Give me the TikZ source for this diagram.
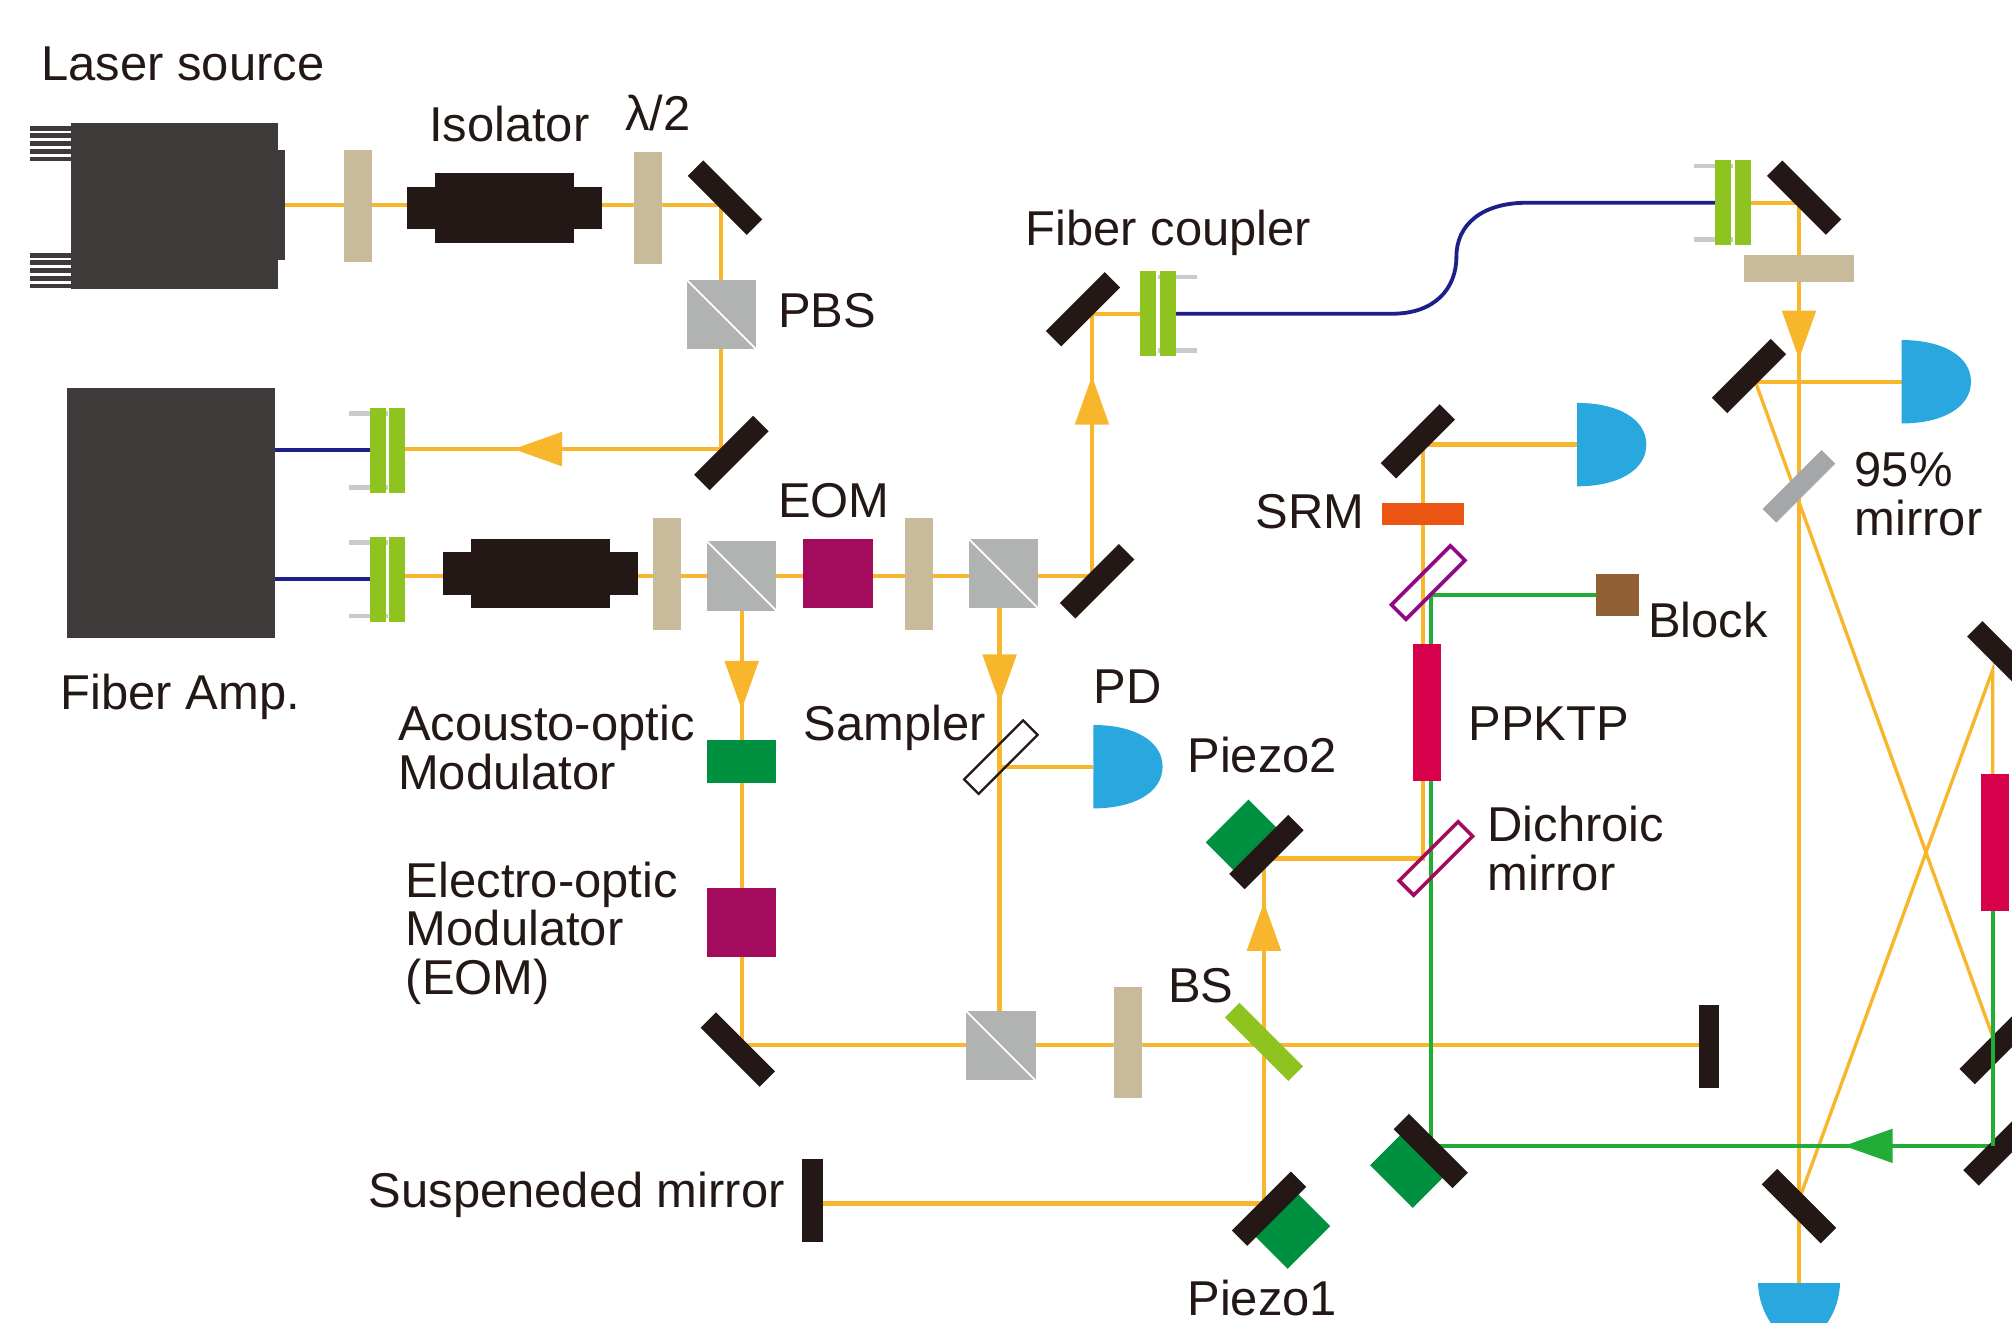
\documentclass[tikz,border=0pt]{standalone}
\usepackage{fontspec}
\setmainfont{Liberation Sans}
\usetikzlibrary{arrows.meta,backgrounds}
\definecolor{beamc}{HTML}{F8B62D}
\definecolor{greenc}{HTML}{22AC38}
\definecolor{fiberc}{HTML}{1D2088}
\definecolor{inkc}{HTML}{231815}
\definecolor{laserc}{HTML}{3E3A39}
\definecolor{platec}{HTML}{C8BB9B}
\definecolor{cubec}{HTML}{B1B3B3}
\definecolor{couplerc}{HTML}{8FC31F}
\definecolor{pinc}{HTML}{C9CACA}
\definecolor{eomc}{HTML}{A40B5D}
\definecolor{aomc}{HTML}{009140}
\definecolor{pdc}{HTML}{29A8E0}
\definecolor{crystalc}{HTML}{D7004A}
\definecolor{srmc}{HTML}{EA5514}
\definecolor{blockc}{HTML}{905F33}
\definecolor{halfc}{HTML}{A5A6A7}
\definecolor{dicc}{HTML}{920783}
\tikzset{
  part/.style n args={3}{fill=#1,minimum width=#2*0.02cm,minimum height=#3*0.02cm,inner sep=0pt,outer sep=0pt},
  plate/.style={part={platec}{22}{87}},
  cube/.style={part={cubec}{54}{54},path picture={\draw[white,line width=0.8pt] (path picture bounding box.north west) -- (path picture bounding box.south east);}},
  eom/.style={part={eomc}{54}{54}},
  mirror/.style={part={inkc}{65}{17}},
  mirrorup/.style={mirror,rotate=45},
  mirrordown/.style={mirror,rotate=-45},
  piezo/.style={part={aomc}{47}{40},rotate=45},
  thinplate/.style={draw=#1,line width=1pt,minimum width=65*0.02cm,minimum height=16*0.02cm,inner sep=0pt,outer sep=0pt,rotate=45},
  dichroic/.style={thinplate=#1,line width=1.6pt},
  lbl/.style={anchor=base west,inner sep=0pt,align=left,text=inkc,font=\fontsize{21.7}{21.6}\selectfont},
  beam/.style={draw=beamc,line width=1.9pt},
  slimbeam/.style={draw=beamc,line width=1.5pt},
  greenbeam/.style={draw=greenc,line width=1.7pt},
  fiber/.style={draw=fiberc,line width=1.7pt},
  beamtip/.style={-{Triangle[length=38*0.02cm,width=26*0.02cm,fill=beamc]}},
  greentip/.style={-{Triangle[length=38*0.02cm,width=26*0.02cm,fill=greenc]}},
  isolator/.pic={
    \node[part={inkc}{152}{33}] (-outer) at (0,0) {};
    \node[part={inkc}{108}{54}] (-inner) at (0,0) {};
  },
  coupler/.pic={
    \fill[pinc] (-30,-30.5) rectangle (0,-27); \fill[pinc] (-30,27) rectangle (0,30.5);
    \node[part={couplerc}{12.5}{66}] (-left) at (-7.5,0) {};
    \node[part={couplerc}{12.5}{66}] (-right) at (7.5,0) {};
  },
  detector/.pic={
    \coordinate (-in) at (0,0);
    \fill[pdc] (0,-32.5) .. controls (32,-32.5) and (54,-20) .. (54,0) .. controls (54,20) and (32,32.5) .. (0,32.5) -- cycle;
  }
}
\begin{document}
\begin{tikzpicture}[x=0.02cm,y=-0.02cm]
\useasboundingbox (0,0) rectangle (1568,1030.3);
\clip (0,0) rectangle (1568,1030.3);

\node[part={laserc}{162}{129}] (laser) at (136,160.5) {};
\node[part={laserc}{5}{86}] (lasertab) at (219.5,160) {};
\foreach \yy in {98,104,110,116,122,197,203,209,215,221}
  \fill[laserc] (23,\yy) rectangle (55,\yy+3.8);
\node[part={laserc}{162}{195}] (amp) at (133,399.5) {};

\node[plate] (hwpA) at (279,160.5) {};
\pic (isoA) at (393,162) {isolator};
\node[plate] (hwpB) at (505,162) {};
\node[mirrordown] (mirA) at (565,154) {};
\node[cube] (pbsA) at (562,245) {};
\node[mirrorup] (mirB) at (570,353) {};
\pic (fcA) at (302,351) {coupler};
\pic (fcB) at (302,451.5) {coupler};
\pic (isoB) at (421,447) {isolator};
\node[plate] (hwpC) at (520,447.5) {};
\node[cube] (pbsB) at (578,449) {};
\node[eom] (eomA) at (653,447) {};
\node[plate] (hwpD) at (716,447.5) {};
\node[cube] (pbsC) at (782,447) {};
\node[mirrorup] (mirC) at (855,453) {};
\node[mirrorup] (mirD) at (844,241) {};
\pic[xscale=-1] (fcC) at (902.5,244.5) {coupler};
\pic (fcD) at (1350.5,158) {coupler};
\node[mirrordown] (mirE) at (1406,154) {};
\node[part={platec}{86}{21}] (hwpE) at (1402,209.5) {};
\node[mirrorup] (mirF) at (1363,293) {};
\pic (pdA) at (1482,297.5) {detector};
\node[part={halfc}{65}{15},rotate=45] (halfmir) at (1402,379) {};
\node[mirrorup] (mirG) at (1105,344) {};
\pic (pdB) at (1229,346.5) {detector};
\node[part={srmc}{64}{17}] (srm) at (1109,400.5) {};
\node[dichroic=dicc] (dicA) at (1113,454) {};
\node[part={blockc}{33}{33}] (block) at (1260.5,463.5) {};
\node[part={crystalc}{22}{107}] (ppktpA) at (1112,555.5) {};
\node[part={aomc}{54}{33}] (aom) at (578,593.5) {};
\node[eom] (eomB) at (578,719) {};
\node[thinplate=inkc] (sampler) at (780,590) {};
\pic (pdC) at (852,597.5) {detector};
\node[piezo] (pztB) at (970.5,654) {};
\node[mirrorup] (mirH) at (987,664) {};
\node[dichroic=eomc] (dicB) at (1119,669) {};
\node[mirrordown] (mirI) at (575,818) {};
\node[cube] (pbsD) at (780,815) {};
\node[plate] (hwpF) at (879,812.5) {};
\node[part={couplerc}{70}{16},rotate=-45] (bs) at (985,812) {};
\node[part={inkc}{16}{65}] (endA) at (1332,815.5) {};
\node[part={inkc}{16}{65}] (endB) at (633,935.5) {};
\node[piezo] (pztA) at (1006,958) {};
\node[mirrorup] (mirJ) at (989,942) {};
\node[piezo,rotate=-90] (pztC) at (1098.5,910.5) {};
\node[mirrordown] (mirK) at (1115,897) {};
\node[mirrordown] (mirL) at (1402,940) {};
\node[mirrordown] (mirM) at (1562,513) {};
\node[part={crystalc}{22}{107}] (ppktpB) at (1555,656.5) {};
\node[mirrorup] (mirN) at (1556,816) {};
\node[mirrorup] (mirO) at (1559,895) {};
\fill[pdc] (1370,1000) -- (1434,1000) .. controls (1433,1020) and (1425,1035) .. (1402,1054) .. controls (1379,1035) and (1371,1020) .. (1370,1000) -- cycle;

\coordinate (cnA) at (562,160);
\coordinate (cnB) at (562,350);
\coordinate (tipA) at (400,350);
\coordinate (cnC) at (851,449);
\coordinate (cnD) at (851,244.5);
\coordinate (tipB) at (851,293);
\coordinate (cnE) at (578,449);
\coordinate (cnF) at (578,814.5);
\coordinate (tipC) at (578,553);
\coordinate (cnG) at (779,449);
\coordinate (cnH) at (779,814.5);
\coordinate (tipD) at (779,548);
\coordinate (cnI) at (779,597.5);
\coordinate (cnJ) at (1402,158);
\coordinate (cnK) at (1402,1000);
\coordinate (tipE) at (1402,280);
\coordinate (cnL) at (1368,297.5);
\coordinate (cnM) at (1553,808);
\coordinate (cnN) at (1402,935);
\coordinate (cnO) at (1553,522);
\coordinate (cnP) at (1109,346.5);
\coordinate (cnQ) at (1109,669);
\coordinate (cnR) at (985,669);
\coordinate (cnS) at (985,938);
\coordinate (tipF) at (985,703);
\coordinate (cnT) at (985,814.5);
\coordinate (cnU) at (1115,463.5);
\coordinate (cnV) at (1115,893);
\coordinate (cnW) at (1553,893);
\coordinate (tipG) at (1437,893);

\begin{scope}[on background layer]
\draw[beam] (lasertab.east) -- (cnA) -- (cnB) -- (cnB -| fcA-right.east);
\draw[beam,beamtip] (cnB) -- (tipA);
\draw[beam] (cnC -| fcB-right.east) -- (cnC) -- (cnD) -- (fcC-right.west);
\draw[beam,beamtip] (cnC) -- (tipB);
\draw[beam] (cnE) -- (cnF) -- (cnH) -- (cnG);
\draw[beam,beamtip] (cnE) -- (tipC);
\draw[beam,beamtip] (cnG) -- (tipD);
\draw[beam] (cnI) -- (pdC-in);
\draw[beam] (fcD-right.east) -- (cnJ) -- (cnK);
\draw[beam,beamtip] (cnJ) -- (tipE);
\draw[beam] (cnL) -- (pdA-in);
\draw[slimbeam] (cnL) -- (cnM);
\draw[slimbeam] (cnN) -- (cnO) -- (cnM);
\draw[beam] (cnP) -- (pdB-in);
\draw[beam] (cnP) -- (cnQ) -- (cnR);
\draw[beam] (cnR) -- (cnS) -- (cnS -| endB.east);
\draw[beam,beamtip] (cnT) -- (tipF);
\draw[beam] (cnF) -- (cnF -| endA.west);
\draw[greenbeam] (cnU -| block.west) -- (cnU) -- (cnV) -- (cnW) -- (cnW |- ppktpB.south);
\draw[greenbeam,greentip] (cnW) -- (tipG);
\draw[fiber] (amp.east |- fcA-left.west) -- (fcA-left.west);
\draw[fiber] (amp.east |- fcB-left.west) -- (fcB-left.west);
\draw[fiber] (fcC-left.east) -- (1085,244.5) .. controls (1118,244.5) and (1135,225) .. (1135,200) .. controls (1135,175) and (1155,158) .. (1190,158) -- (fcD-left.west);
\end{scope}
\draw[greenbeam] (1553,790) -- (cnW);

\node[lbl] (txtlaser) at (32,63) {Laser source};
\node[lbl] (txtiso) at (334,110) {Isolator};
\node[lbl] (txthalf) at (487,102) {λ/2};
\node[lbl] (txtpbs) at (606,255) {PBS};
\node[lbl] (txtfc) at (799,191) {Fiber coupler};
\node[lbl] (txtamp) at (47,553) {Fiber Amp.};
\node[lbl] (txteom) at (606,403) {EOM};
\node[lbl] (txtaom) at (310,615) {Acousto-optic\\Modulator};
\node[lbl] (txteoml) at (316,775) {Electro-optic\\Modulator\\(EOM)};
\node[lbl] (txtsampler) at (626,577) {Sampler};
\node[lbl] (txtpd) at (852,548) {PD};
\node[lbl] (txtpztB) at (925,602) {Piezo2};
\node[lbl] (txtsrm) at (978,412) {SRM};
\node[lbl] (txtblock) at (1284,497) {Block};
\node[lbl] (txtppktp) at (1144,577) {PPKTP};
\node[lbl] (txtdic) at (1159,694) {Dichroic\\mirror};
\node[lbl] (txtmir) at (1445,417) {95\%\\mirror};
\node[lbl] (txtbs) at (910,781) {BS};
\node[lbl] (txtsus) at (287,941) {Suspeneded mirror};
\node[lbl] (txtpztA) at (925,1025) {Piezo1};
\end{tikzpicture}
\end{document}
